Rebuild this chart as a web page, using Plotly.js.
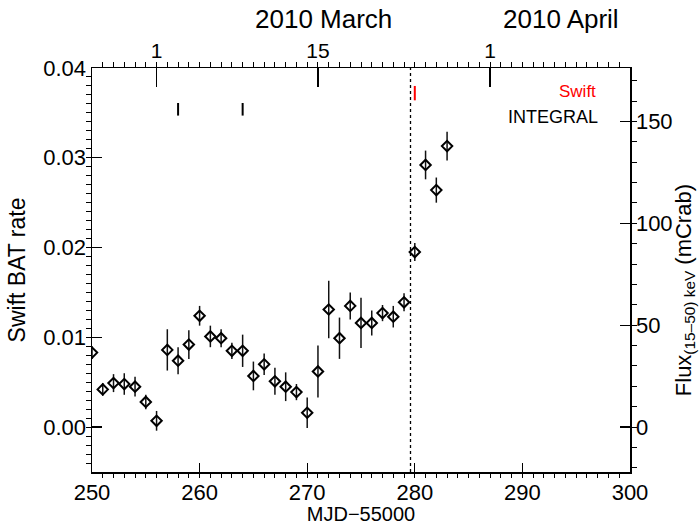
<!DOCTYPE html>
<html>
<head>
<meta charset="utf-8">
<script src="https://cdn.plot.ly/plotly-3.0.1.min.js"></script>
<style>html,body{margin:0;padding:0;background:#fff;}#chart{width:700px;height:525px;}</style>
</head>
<body>
<div id="chart"></div>
<script>
// Swift BAT light curve (MJD-55000)
const mjd = [250, 251, 252, 253, 254, 255, 256, 257, 258, 259, 260, 261, 262, 263, 264, 265, 266, 267, 268, 269, 270, 271, 272, 273, 274, 275, 276, 277, 278, 279, 280, 281, 282, 283];
const batRate = [0.0083, 0.0042, 0.0049, 0.0048, 0.0045, 0.0028, 0.0007, 0.0086, 0.0074, 0.0092, 0.0124, 0.0101, 0.0099, 0.0085, 0.0085, 0.0057, 0.0070, 0.0051, 0.0045, 0.0039, 0.0016, 0.0062, 0.0131, 0.0099, 0.0135, 0.0116, 0.0116, 0.0127, 0.0123, 0.0139, 0.0195, 0.0292, 0.0264, 0.0313];
const batErr = [0.0007, 0.0007, 0.0010, 0.0012, 0.0011, 0.0008, 0.0011, 0.0023, 0.0015, 0.0016, 0.0011, 0.0012, 0.0010, 0.0009, 0.0018, 0.0016, 0.0012, 0.0015, 0.0016, 0.0009, 0.0017, 0.0029, 0.0032, 0.0023, 0.0015, 0.0028, 0.0014, 0.0009, 0.0012, 0.0010, 0.0010, 0.0016, 0.0014, 0.0016];

// observation markers
const integralObsMJD = [258, 264];
const integralMarkY = [0.0347, 0.0361];
const swiftObsMJD = [280];
const swiftMarkY = [0.0364, 0.0380];
const outburstMJD = 279.6;

// axes
const xRange = [250, 300];
const yRange = [-0.005, 0.04];
const mCrabPerRate = 1 / 0.000227;
const topTickVals = [256, 271, 287];
const topTickText = ['1', '15', '1'];
const monthLabels = ['2010 March', '2010 April'];
const monthLabelX = [271.5, 293.6];

function segments(xs, ys) {
  const X = [], Y = [];
  xs.forEach(x => { X.push(x, x, null); Y.push(ys[0], ys[1], null); });
  return {X, Y};
}
const integ = segments(integralObsMJD, integralMarkY);
const swi = segments(swiftObsMJD, swiftMarkY);

const font = 'Liberation Sans, Arial, Helvetica, sans-serif';

const traces = [
  {x: [outburstMJD, outburstMJD], y: yRange, mode: 'lines', line: {color: 'black', width: 1.3, dash: 'dot'}, hoverinfo: 'skip', showlegend: false},
  {x: integ.X, y: integ.Y, mode: 'lines', line: {color: 'black', width: 2}, showlegend: false},
  {x: swi.X, y: swi.Y, mode: 'lines', line: {color: 'red', width: 2}, showlegend: false},
  {x: mjd, y: batRate, mode: 'markers', type: 'scatter', cliponaxis: true,
   error_y: {type: 'data', array: batErr, visible: true, width: 0, thickness: 1.5, color: '#111'},
   marker: {symbol: 'diamond-open', size: 8, color: 'black', line: {color: 'black', width: 2}}, showlegend: false},
  {x: [xRange[0]], y: [0], xaxis: 'x2', yaxis: 'y2', mode: 'markers', marker: {opacity: 0}, hoverinfo: 'skip', showlegend: false}
];

const axisCommon = {showline: true, linecolor: 'black', linewidth: 1.5, zeroline: false, showgrid: false, ticks: 'inside', tickcolor: 'black', tickwidth: 1.3, tickfont: {family: font, size: 22, color: 'black'}};

const layout = {
  width: 700, height: 525,
  margin: {l: 92, r: 70, t: 68, b: 53, pad: 0},
  paper_bgcolor: 'white', plot_bgcolor: 'white',
  font: {family: font, color: 'black'},
  showlegend: false,
  xaxis: Object.assign({}, axisCommon, {
    range: xRange, dtick: 10, tick0: 250, ticklen: 9,
    minor: {tickmode: 'linear', tick0: 250, dtick: 1, ticklen: 4, tickcolor: 'black', tickwidth: 1},
    title: {text: 'MJD\u221255000', font: {family: font, size: 20, color: 'black'}, standoff: 3}
  }),
  xaxis2: Object.assign({}, axisCommon, {
    overlaying: 'x', side: 'top', anchor: 'y', range: xRange,
    tickmode: 'array', tickvals: topTickVals, ticktext: topTickText, ticklen: 19,
    tickfont: {family: font, size: 21, color: 'black'},
    minor: {tickmode: 'linear', tick0: 250, dtick: 1, ticklen: 5, tickcolor: 'black', tickwidth: 1}
  }),
  yaxis: Object.assign({}, axisCommon, {
    range: yRange, dtick: 0.01, tick0: 0, tickformat: '.2f', ticklen: 10,
    minor: {tickmode: 'linear', tick0: 0, dtick: 0.001, ticklen: 5, tickcolor: 'black', tickwidth: 1},
    title: {text: 'Swift BAT rate', font: {family: font, size: 23, color: 'black'}, standoff: 11}
  }),
  yaxis2: Object.assign({}, axisCommon, {
    overlaying: 'y', side: 'right', anchor: 'x',
    range: [yRange[0] * mCrabPerRate, yRange[1] * mCrabPerRate], dtick: 50, tick0: 0, ticklen: 10,
    minor: {tickmode: 'linear', tick0: 0, dtick: 10, ticklen: 5, tickcolor: 'black', tickwidth: 1}
  }),
  annotations: [
    {x: 295.1, y: 0.0374, xref: 'x', yref: 'y', text: 'Swift', showarrow: false, font: {family: font, size: 17, color: 'red'}},
    {x: 292.8, y: 0.0345, xref: 'x', yref: 'y', text: 'INTEGRAL', showarrow: false, font: {family: font, size: 18, color: 'black'}},
    {x: monthLabelX[0], y: 1, yanchor: 'bottom', yshift: 32, xref: 'x', yref: 'paper', text: monthLabels[0], showarrow: false, font: {family: font, size: 26, color: 'black'}},
    {x: monthLabelX[1], y: 1, yanchor: 'bottom', yshift: 32, xref: 'x', yref: 'paper', text: monthLabels[1], showarrow: false, font: {family: font, size: 26, color: 'black'}},
    {x: 1, y: 0.45, xref: 'paper', yref: 'paper', xanchor: 'center', yanchor: 'middle', xshift: 55, textangle: -90,
     text: 'Flux<sub>(15\u201350) keV</sub> (mCrab)', showarrow: false, font: {family: font, size: 22, color: 'black'}}
  ]
};

Plotly.newPlot('chart', traces, layout, {staticPlot: true, displayModeBar: false});
</script>
</body>
</html>
